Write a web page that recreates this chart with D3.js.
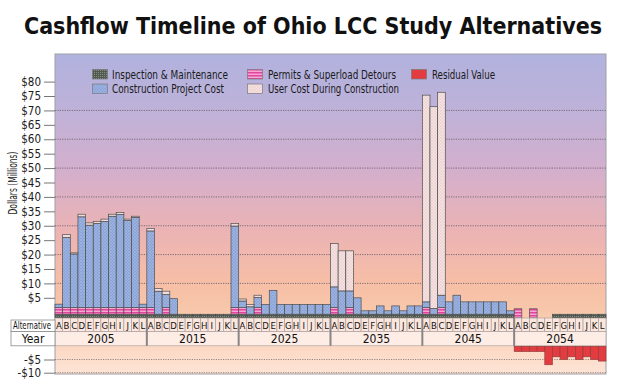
<!DOCTYPE html>
<html><head><meta charset="utf-8">
<script src="https://cdn.jsdelivr.net/npm/d3@7"></script>
<style>body{margin:0;background:#fff;} svg{display:block;}</style>
</head><body><svg id="c" width="625" height="389"></svg>
<script>
// ---------- DATA ----------
const years = ["2005", "2015", "2025", "2035", "2045", "2054"];
const alternatives = ["A","B","C","D","E","F","G","H","I","J","K","L"];

// $ millions, one value per alternative, grouped by year (12 per year)
const inspection = [
  1.3,1.3,1.3,1.3,1.3,1.3,1.3,1.3,1.3,1.3,1.3,1.3,
  1.3,1.3,1.3,1.3,1.3,1.3,1.3,1.3,1.3,1.3,1.3,1.3,
  1.3,1.3,1.3,1.3,1.3,1.3,1.3,1.3,1.3,1.3,1.3,1.3,
  1.3,1.3,1.3,1.3,1.3,1.3,1.3,1.3,1.3,1.3,1.3,1.3,
  1.3,1.3,1.3,1.3,1.3,1.3,1.3,1.3,1.3,1.3,1.3,1.3,
  0,0,0,0,0,1.3,1.3,1.3,1.3,1.3,1.3,1.3
];
const permits = [
  2.3,2.3,2.3,2.3,2.3,2.3,2.3,2.3,2.3,2.3,2.3,2.3,
  2.3,0,2.3,0,0,0,0,0,0,0,0,2.3,
  2.3,0,2.3,0,0,0,0,0,0,0,0,0,
  2.3,0,2.3,0,0,0,0,0,0,0,0,0,
  2.3,0,2.3,0,0,0,0,0,0,0,0,0,
  3.2,0,3.2,0,0,0,0,0,0,0,0,0
];
const construction = [
  1.2,24.3,18.6,31.5,28.6,29.2,29.9,31.7,32.3,30.2,31.3,1.2,
  26.6,8.0,4.5,5.4,0,0,0,0,0,0,0,28.3,
  2.3,2.6,3.5,3.4,8.3,3.4,3.4,3.4,3.4,3.4,3.4,3.4,
  7.2,8.1,5.8,5.7,1.2,1.2,2.9,1.2,2.9,1.2,2.9,2.9,
  2.0,2.0,4.3,4.3,6.6,4.3,4.3,4.3,4.3,4.3,4.3,1.2,
  0,0,0,0,0,0,0,0,0,0,0,0
];
const userCost = [
  0,1.1,0.4,0.9,0.8,0.7,0.8,0.7,0.7,0.5,0.4,0,
  0.9,0.9,1.2,0,0,0,0,0,0,0,0,0.9,
  0.7,0.8,0.8,0,0,0,0,0,0,0,0,0,
  15.0,13.9,13.9,0,0,0,0,0,0,0,0,0,
  71.7,70.0,70.4,0,0,0,0,0,0,0,0,0,
  0,0,0,0,0,0,0,0,0,0,0,0
];
const residual = [
  0,0,0,0,0,0,0,0,0,0,0,0,
  0,0,0,0,0,0,0,0,0,0,0,0,
  0,0,0,0,0,0,0,0,0,0,0,0,
  0,0,0,0,0,0,0,0,0,0,0,0,
  0,0,0,0,0,0,0,0,0,0,0,0,
  -2,-2,-2,-2,-7,-4,-5,-4,-5,-4,-5,-5.6
];
const yTicks = [5,10,15,20,25,30,35,40,45,50,55,60,65,70,75,80];
const yGrid = [10,20,30,40,50,60,70];
const negTicks = [-5,-10];
const seriesNames = ["Inspection & Maintenance","Permits & Superload Detours","Construction Project Cost","User Cost During Construction","Residual Value"];

// ---------- SETUP ----------
const FONT = "'Liberation Sans Narrow','DejaVu Sans Condensed','Open Sans',sans-serif";
const svg = d3.select("#c");
const P = {l:55, r:606, t:54, b:374};

const rows = [];
years.forEach((yr, gi) => alternatives.forEach((a, ai) => {
  const i = gi*12 + ai;
  rows.push({key: yr+"-"+a, year: yr, alt: a, inspection: inspection[i], permits: permits[i],
             construction: construction[i], userCost: userCost[i], residual: residual[i]});
}));

const x = d3.scaleBand().domain(rows.map(d => d.key)).range([P.l, P.r]).padding(0);
const y = d3.scaleLinear().domain([-2, 80]).range([318, 81.6]);   // bars rest on the table top (domain min)
const yNeg = d3.scaleLinear().domain([0, -10]).range([346.3, 372.7]);
const base = y.domain()[0];

// ---------- DEFS ----------
const defs = svg.append("defs");
const grad = defs.append("linearGradient").attr("id","bg").attr("x1",0).attr("x2",0).attr("y1",0).attr("y2",1);
[[0,"#b1b2de"],[0.14,"#bbb2da"],[0.36,"#d3afcd"],[0.55,"#ebb3b4"],[0.71,"#f6bea6"],[0.80,"#f8c7aa"],[0.9,"#fbd6c0"],[1,"#fde4d6"]]
  .forEach(([o,c]) => grad.append("stop").attr("offset",o).attr("stop-color",c));

function pat(id, w, h, bg, draw) {
  const p = defs.append("pattern").attr("id",id).attr("width",w).attr("height",h).attr("patternUnits","userSpaceOnUse");
  p.append("rect").attr("width",w).attr("height",h).attr("fill",bg);
  draw(p);
}
pat("pIM", 2, 2, "#505a50", p => p.append("rect").attr("width",1).attr("height",1).attr("fill","#84907f"));
pat("pBlue", 3, 3, "#8ba4d8", p => p.append("path").attr("d","M0,0L3,3M3,0L0,3").attr("stroke","#a9bce6").attr("stroke-width",0.5));
pat("pPink", 4, 3, "#f6a6d3", p => p.append("rect").attr("width",4).attr("height",1.5).attr("fill","#e2459c"));
pat("pUser", 3, 3, "#f5e2e1", p => p.append("path").attr("d","M0,0L3,3M3,0L0,3").attr("stroke","#e6caca").attr("stroke-width",0.5));
const fills = {inspection:"url(#pIM)", permits:"url(#pPink)", construction:"url(#pBlue)", userCost:"url(#pUser)", residual:"#e23c40"};

// ---------- TITLE ----------
svg.append("text").attr("x",313).attr("y",34).attr("text-anchor","middle").attr("font-family",FONT).attr("font-weight",700)
  .attr("font-size",23).attr("fill","#111").attr("textLength",578).attr("lengthAdjust","spacingAndGlyphs")
  .text("Cashflow Timeline of Ohio LCC Study Alternatives");

// ---------- PLOT BACKGROUND ----------
svg.append("rect").attr("x",P.l).attr("y",P.t).attr("width",P.r-P.l).attr("height",P.b-P.t)
  .attr("fill","url(#bg)").attr("stroke","#a0a0a8").attr("stroke-width",1);

// gridlines
const gridG = svg.append("g");
gridG.selectAll("line.g").data(yGrid).join("line")
  .attr("x1",P.l).attr("x2",P.r).attr("y1",d=>y(d)).attr("y2",d=>y(d))
  .attr("stroke","#6e6470").attr("stroke-width",0.9).attr("stroke-dasharray","1.2,1.2");
gridG.selectAll("line.n").data(negTicks).join("line")
  .attr("x1",P.l).attr("x2",P.r).attr("y1",d=>yNeg(d)).attr("y2",d=>yNeg(d))
  .attr("stroke","#8a7a78").attr("stroke-width",0.9).attr("stroke-dasharray","1.2,1.2");

// ---------- AXES ----------
function styleAxis(g) {
  g.select(".domain").remove();
  g.selectAll(".tick line").attr("stroke","#777").attr("stroke-width",1);
  g.selectAll(".tick text").attr("font-family",FONT).attr("font-size",11.5).attr("fill","#1a1a1a");
}
svg.append("g").attr("transform",`translate(${P.l},0)`)
  .call(d3.axisLeft(y).tickValues(yTicks).tickSize(11).tickPadding(3).tickFormat(d => "$"+d)).call(styleAxis);
svg.append("g").attr("transform",`translate(${P.l},0)`)
  .call(d3.axisLeft(yNeg).tickValues(negTicks).tickSize(11).tickPadding(3).tickFormat(d => "-$"+Math.abs(d))).call(styleAxis);

svg.append("text").attr("transform","translate(17,183) rotate(-90)").attr("text-anchor","middle")
  .attr("font-family",FONT).attr("font-size",11.5).attr("fill","#1a1a1a")
  .attr("textLength",63).attr("lengthAdjust","spacingAndGlyphs").text("Dollars (Millions)");

// ---------- STACKED BARS ----------
const keys = ["inspection","permits","construction","userCost"];
const stack = d3.stack().keys(keys)(rows);
const barG = svg.append("g");
stack.forEach(layer => {
  barG.append("g").selectAll("rect")
    .data(layer.filter(d => d[1] - d[0] > 0))
    .join("rect")
    .attr("x", d => x(d.data.key)).attr("width", x.bandwidth())
    .attr("y", d => y(base + d[1])).attr("height", d => y(base + d[0]) - y(base + d[1]))
    .attr("fill", fills[layer.key]).attr("stroke","#4e4e4e").attr("stroke-width",0.7);
});

// ---------- TABLE ----------
const tTop = y(base), tMid = 331.5, tBot = 345.8;
const tab = svg.append("g");
tab.selectAll("rect.alt").data(rows).join("rect")
  .attr("x", d => x(d.key)).attr("width", x.bandwidth()).attr("y", tTop).attr("height", tMid - tTop)
  .attr("fill","#fbeae4").attr("fill-opacity",0.85).attr("stroke","#a49a98").attr("stroke-width",0.6);
tab.selectAll("text.alt").data(rows).join("text")
  .attr("x", d => x(d.key) + x.bandwidth()/2).attr("y", 329).attr("text-anchor","middle")
  .attr("font-family",FONT).attr("font-size",9.5).attr("fill","#111").text(d => d.alt);

const groupX0 = yr => x(yr+"-A"), groupX1 = yr => x(yr+"-L") + x.bandwidth();
tab.selectAll("rect.yr").data(years).join("rect")
  .attr("x", groupX0).attr("width", d => groupX1(d) - groupX0(d)).attr("y", tMid).attr("height", tBot - tMid)
  .attr("fill","#fdf1ec").attr("fill-opacity",0.85).attr("stroke","#a49a98").attr("stroke-width",0.6);
tab.selectAll("text.yr").data(years).join("text")
  .attr("x", d => (groupX0(d)+groupX1(d))/2).attr("y", 343).attr("text-anchor","middle")
  .attr("font-family",FONT).attr("font-size",12).attr("fill","#111").text(d => d);
tab.selectAll("line.sep").data(years.slice(1)).join("line")
  .attr("x1", groupX0).attr("x2", groupX0).attr("y1", tTop).attr("y2", tBot)
  .attr("stroke","#8a8584").attr("stroke-width",2);

// label column
tab.append("rect").attr("x",11).attr("y",tTop+2).attr("width",P.l-11).attr("height",tMid-tTop-2)
  .attr("fill","#fff").attr("stroke","#8a8a8a").attr("stroke-width",0.8);
tab.append("rect").attr("x",11).attr("y",tMid).attr("width",P.l-11).attr("height",tBot-tMid)
  .attr("fill","#fff").attr("stroke","#8a8a8a").attr("stroke-width",0.8);
tab.append("text").attr("transform","translate(13,329.2) scale(0.7,1)").attr("font-family",FONT)
  .attr("font-size",11).attr("fill","#111").text("Alternative");
tab.append("text").attr("x",33).attr("y",343).attr("text-anchor","middle").attr("font-family",FONT)
  .attr("font-size",12).attr("fill","#111").text("Year");

// ---------- RESIDUAL BARS ----------
svg.append("g").selectAll("rect").data(rows.filter(d => d.residual < 0)).join("rect")
  .attr("x", d => x(d.key)).attr("width", x.bandwidth())
  .attr("y", yNeg(0)).attr("height", d => yNeg(d.residual) - yNeg(0))
  .attr("fill", fills.residual).attr("stroke","#8c3a3a").attr("stroke-width",0.6);

// ---------- LEGEND ----------
const legend = [
  {name: seriesNames[0], fill: fills.inspection, sx: 92.5, sy: 69.5, tx: 112, ty: 78.6, tl: 116},
  {name: seriesNames[2], fill: fills.construction, sx: 92.5, sy: 84, tx: 112, ty: 93.2, tl: 112},
  {name: seriesNames[1], fill: fills.permits, sx: 247.5, sy: 69.5, tx: 268, ty: 78.6, tl: 128},
  {name: seriesNames[3], fill: fills.userCost, sx: 247.5, sy: 84, tx: 268, ty: 93.2, tl: 131},
  {name: seriesNames[4], fill: fills.residual, sx: 411.5, sy: 69.5, tx: 432, ty: 78.6, tl: 63}
];
const lg = svg.append("g");
lg.selectAll("rect").data(legend).join("rect")
  .attr("x", d => d.sx).attr("y", d => d.sy).attr("width", 15).attr("height", 9.5)
  .attr("fill", d => d.fill).attr("stroke","#7a7a7a").attr("stroke-width",0.7);
lg.selectAll("text").data(legend).join("text")
  .attr("x", d => d.tx).attr("y", d => d.ty).attr("font-family",FONT).attr("font-size",12).attr("fill","#1a1a1a")
  .attr("textLength", d => d.tl).attr("lengthAdjust","spacingAndGlyphs").text(d => d.name);
</script></body></html>
